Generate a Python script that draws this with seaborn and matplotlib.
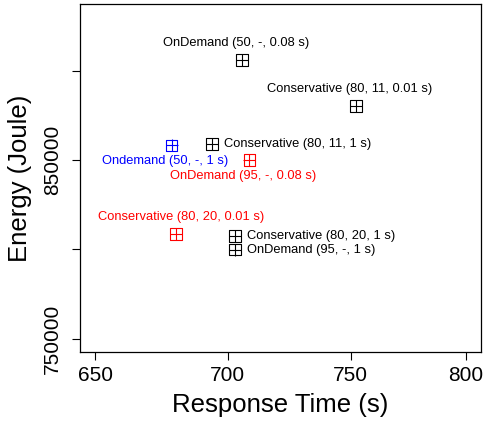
import matplotlib
matplotlib.use("Agg")
import matplotlib.pyplot as plt
import seaborn as sns
import pandas as pd

# ---- data ----
labels = [
    "OnDemand (50, -, 0.08 s)",
    "Conservative (80, 11, 0.01 s)",
    "Conservative (80, 11, 1 s)",
    "Ondemand (50, -, 1 s)",
    "OnDemand (95, -, 0.08 s)",
    "Conservative (80, 20, 0.01 s)",
    "Conservative (80, 20, 1 s)",
    "OnDemand (95, -, 1 s)",
]
response_time = [705.6, 752.2, 694.0, 678.4, 708.6, 680.2, 703.0, 702.8]
energy = [906100, 880400, 859000, 858200, 850200, 808700, 807600, 799900]
group = ["black", "black", "black", "blue", "red", "red", "black", "black"]
x_ticks = [650, 700, 750, 800]
y_ticks = [750000, 800000, 850000, 900000]
y_tick_labels = ["750000", "", "850000", ""]

df = pd.DataFrame({"label": labels, "time": response_time,
                   "energy": energy, "group": group})

palette = {"black": "#000000", "blue": "#0000FF", "red": "#FF0000"}
# label placement: (dx px, dy px, ha)
placement = [(-6, 17, "center"), (-6, 17, "center"), (12, 0, "left"),
             (-6, -16, "center"), (-6, -16, "center"), (5, 17, "center"),
             (12, 0, "left"), (12, 0, "left")]

sns.set_style("white")
plt.rcParams["font.family"] = ["Liberation Sans", "DejaVu Sans"]
plt.rcParams["text.color"] = "black"
plt.rcParams["axes.labelcolor"] = "black"
plt.rcParams["xtick.color"] = "black"
plt.rcParams["ytick.color"] = "black"

fig = plt.figure(figsize=(4.85, 4.21), dpi=100)
ax = fig.add_axes([0.1656, 0.1646, 0.9918 - 0.1656, 0.9898 - 0.1646])

sns.scatterplot(data=df, x="time", y="energy", hue="group", palette=palette,
                marker="s", s=70, facecolor="none", linewidth=0.8,
                legend=False, ax=ax)
for g, c in palette.items():
    sub = df[df["group"] == g]
    ax.scatter(sub["time"], sub["energy"], marker="+", s=70, color=c,
               linewidths=0.8)
for coll in ax.collections[:1]:
    coll.set_facecolor("none")
    coll.set_edgecolor([palette[g] for g in df["group"]])

for lab, x, y, g, (dx, dy, ha) in zip(labels, response_time, energy, group, placement):
    ax.annotate(lab, (x, y), xytext=(dx, dy), textcoords="offset pixels",
                ha=ha, va="center", fontsize=9.3, color=palette[g])

ax.set_xscale("log")
ax.set_xlim(650 / (800 / 650) ** 0.04, 800 * (800 / 650) ** 0.04)
ax.set_ylim(750000 - 7200, 930000 + 7200)
ax.set_xticks(x_ticks)
ax.set_xticklabels([str(t) for t in x_ticks])
ax.xaxis.set_minor_locator(matplotlib.ticker.NullLocator())
ax.set_yticks(y_ticks)
ax.set_yticklabels(y_tick_labels, rotation=90, va="center")

ax.tick_params(axis="both", direction="out", length=6, width=0.8,
               labelsize=15, color="black", labelcolor="black",
               bottom=True, left=True)
ax.tick_params(axis="x", pad=4)
ax.tick_params(axis="y", pad=7)
for sp in ax.spines.values():
    sp.set_visible(True)
    sp.set_color("black")
    sp.set_linewidth(0.9)

ax.set_xlabel("Response Time (s)", fontsize=18.5, labelpad=6, color="black")
ax.set_ylabel("Energy (Joule)", fontsize=18.5, labelpad=8, color="black")

fig.savefig("out.png", dpi=100)
